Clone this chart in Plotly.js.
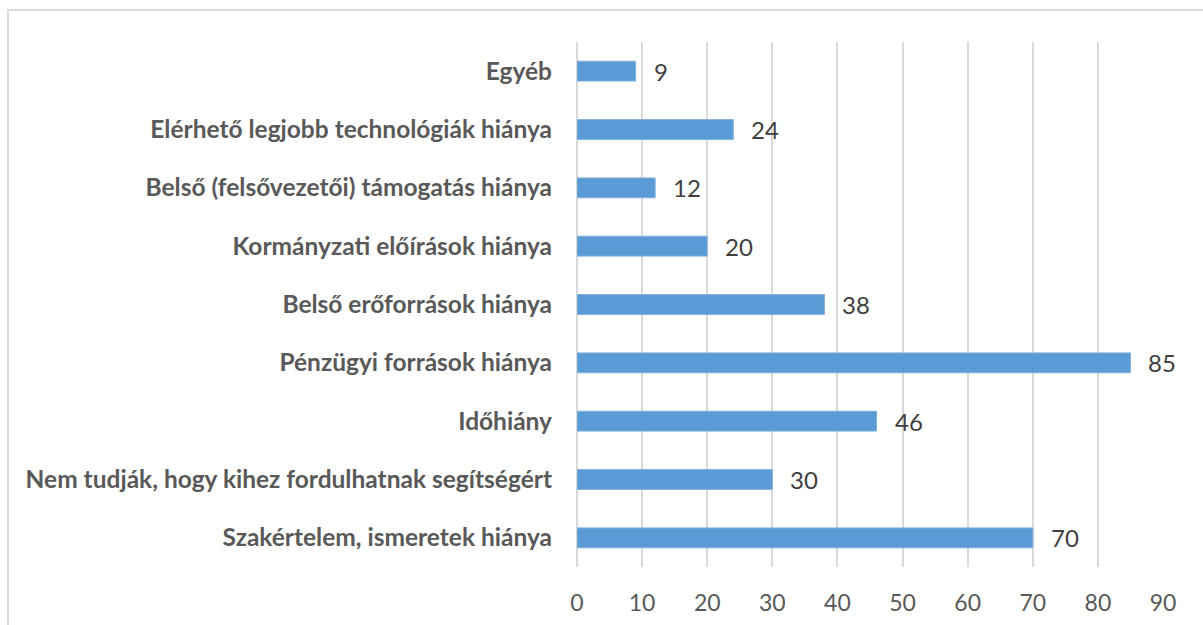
<!DOCTYPE html>
<html>
<head>
<meta charset="utf-8">
<script src="https://cdn.plot.ly/plotly-3.0.1.min.js"></script>
<style>
  html, body { margin: 0; padding: 0; background: #ffffff; }
  #wrap { position: relative; width: 1203px; height: 625px; }
  #chart { width: 1203px; height: 625px; }
  #frame { position: absolute; left: 7px; top: 9px; width: 1210px; height: 640px;
           border-left: 2px solid #d9d9d9; border-top: 2px solid #d9d9d9; pointer-events: none; }
</style>
</head>
<body>
<div id="wrap">
  <div id="chart"></div>
  <div id="frame"></div>
</div>
<script>
const categories = [
  "Szakértelem, ismeretek hiánya",
  "Nem tudják, hogy kihez fordulhatnak segítségért",
  "Időhiány",
  "Pénzügyi források hiánya",
  "Belső erőforrások hiánya",
  "Kormányzati előírások hiánya",
  "Belső (felsővezetői) támogatás hiánya",
  "Elérhető legjobb technológiák hiánya",
  "Egyéb"
];
const values = [70, 30, 46, 85, 38, 20, 12, 24, 9];
const tickValues = [0, 10, 20, 30, 40, 50, 60, 70, 80, 90];

const trace = {
  type: "bar",
  orientation: "h",
  x: values,
  y: categories,
  marker: { color: "#5B9BD5", line: { color: "#7fb0de", width: 1 } },
  width: 0.34,
  hoverinfo: "x+y"
};

const annotations = values.map((v, i) => ({
  x: v, y: categories[i], xref: "x", yref: "y",
  text: String(v), showarrow: false, xanchor: "left", xshift: 16,
  font: { family: "Lato, sans-serif", size: 24, color: "#404040" }
}));

const layout = {
  width: 1203, height: 625,
  margin: { l: 577, r: 40, t: 42, b: 58 },
  paper_bgcolor: "#ffffff",
  plot_bgcolor: "#ffffff",
  showlegend: false,
  xaxis: {
    range: [0, 90],
    tickvals: tickValues,
    ticktext: tickValues.map(String),
    showgrid: true, gridcolor: "#d9d9d9", gridwidth: 2,
    zeroline: true, zerolinecolor: "#d9d9d9", zerolinewidth: 2,
    showline: false, ticks: "",
    ticklabelstandoff: 20,
    tickfont: { family: "Lato, sans-serif", size: 23, color: "#595959" },
    fixedrange: true
  },
  yaxis: {
    type: "category",
    categoryorder: "array",
    categoryarray: categories,
    showgrid: false, zeroline: false, showline: false, ticks: "",
    ticklabelstandoff: 24,
    tickfont: { family: "Lato, sans-serif", size: 24.5, color: "#595959", weight: "bold" },
    fixedrange: true
  },
  annotations: annotations
};

Plotly.newPlot("chart", [trace], layout, { displayModeBar: false, staticPlot: true });
</script>
</body>
</html>
